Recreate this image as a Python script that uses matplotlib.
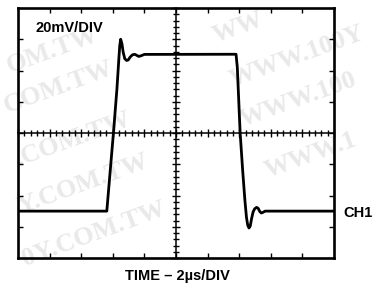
import numpy as np
import matplotlib
matplotlib.use("Agg")
import matplotlib.pyplot as plt
from matplotlib.ticker import MultipleLocator, NullFormatter

plt.rcParams['font.family'] = ['Liberation Sans', 'DejaVu Sans']

# scope trace: time in us, voltage in mV (20mV/DIV, 2us/DIV)
t_us = [0, 5.62, 6.04, 6.26, 6.38, 6.44, 6.50, 6.58, 6.66, 6.76, 6.88, 6.98,
        7.10, 7.24, 7.38, 7.50, 7.64, 7.78, 8.00, 13.80, 13.88, 14.06, 14.22,
        14.36, 14.46, 14.54, 14.62, 14.70, 14.78, 14.88, 14.98, 15.10, 15.20,
        15.30, 15.40, 15.50, 15.64, 20]
v_mv = [-50, -50, 0, 28, 47, 56, 60, 57, 51.5, 47.5, 46.4, 46.8,
        48.6, 50.0, 50.4, 49.8, 49.0, 49.4, 50.3, 50.4, 42, 0, -24,
        -43, -54, -59, -60.8, -59.5, -55, -50.5, -48.5, -47.6, -48.2,
        -50.2, -51.2, -50.8, -50, -50]

x_div = 2      # us per division
y_div = 20     # mV per division
x_range = (0, 20)
y_range = (-80, 80)

vdiv_label = "20mV/DIV"
time_label = "TIME – 2µs/DIV"
ch_label = "CH1"

# watermark pieces that show in the picture (pixel anchor, text)
wm_left = [((100, 40), "OM.TW"), ((115, 74), "COM.TW"), ((133, 124), ".COM.TW"),
           ((150, 167), "Y.COM.TW"), ((167, 214), "0Y.COM.TW")]
wm_right = [((216, 43), "WW"), ((233, 87), "WWW.100Y"), ((243, 127), "WWW.100"),
            ((268, 178), "WWW.1")]

fig = plt.figure(figsize=(3.8, 2.86), dpi=100)
fig.patch.set_facecolor('white')
pos = [18 / 380, 28 / 286, 316 / 380, 250 / 286]

wm_style = dict(family='Liberation Serif', weight='bold', fontsize=19,
                color='#e9e9e9', rotation=20, rotation_mode='anchor',
                va='baseline', zorder=-10)
for (px, py), s in wm_left:
    fig.text(px / 380, 1 - py / 286, s, ha='right', **wm_style)
for (px, py), s in wm_right:
    fig.text(px / 380, 1 - py / 286, s, ha='left', **wm_style)

# centre cross with fine graduations
cx = fig.add_axes(pos, zorder=0)
cx.set_facecolor('none')
cx.set_xlim(*x_range)
cx.set_ylim(*y_range)
for s in ['top', 'right']:
    cx.spines[s].set_visible(False)
cx.spines['left'].set_position(('data', np.mean(x_range)))
cx.spines['bottom'].set_position(('data', np.mean(y_range)))
cx.spines['left'].set_linewidth(1.1)
cx.spines['bottom'].set_linewidth(1.1)
cx.xaxis.set_major_locator(MultipleLocator(x_div))
cx.xaxis.set_minor_locator(MultipleLocator(x_div / 5))
cx.yaxis.set_major_locator(MultipleLocator(y_div))
cx.yaxis.set_minor_locator(MultipleLocator(y_div / 5))
cx.xaxis.set_major_formatter(NullFormatter())
cx.yaxis.set_major_formatter(NullFormatter())
cx.tick_params(which='major', direction='inout', length=6, width=1.0)
cx.tick_params(which='minor', direction='inout', length=4.5, width=1.0)

# outer frame and trace
ax = fig.add_axes(pos, zorder=1)
ax.set_facecolor('none')
ax.plot(t_us, v_mv, color='black', lw=2.0, solid_joinstyle='round')
ax.set_xlim(*x_range)
ax.set_ylim(*y_range)
ax.set_xticks(np.arange(x_range[0] + x_div, x_range[1], x_div))
ax.set_yticks(np.arange(y_range[0] + y_div, y_range[1], y_div))
ax.tick_params(direction='in', length=3.3, width=1.0, top=True, right=True,
               labelbottom=False, labelleft=False)
for s in ax.spines.values():
    s.set_linewidth(1.9)

ax.text(0.054, 0.918, vdiv_label, transform=ax.transAxes, fontsize=10.5,
        weight='bold', ha='left', va='center')
fig.text(343 / 380, 1 - 213 / 286, ch_label, fontsize=10.5, weight='bold',
         ha='left', va='center')
fig.text(177.5 / 380, 1 - 276 / 286, time_label, fontsize=10.5, weight='bold',
         ha='center', va='center')

fig.savefig("out.png", dpi=100)
